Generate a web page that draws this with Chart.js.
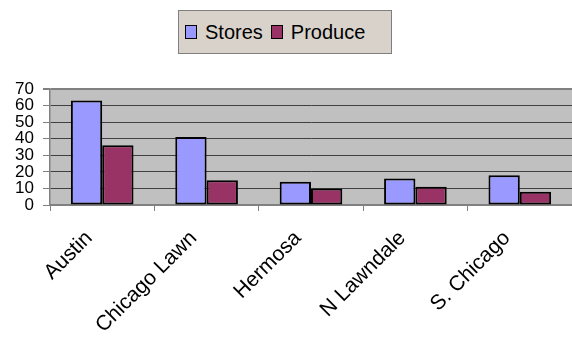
<!DOCTYPE html>
<html lang="en">
<head>
  <meta charset="UTF-8" />
  <title>Stores and Produce</title>
  <script src="https://cdn.jsdelivr.net/npm/chart.js"></script>
  <style>
    body {
      margin: 0;
      background: #fff;
      font-family: Arial, 'Liberation Sans', sans-serif;
    }

    .wrap {
      position: relative;
      width: 572px;
      height: 337px;
    }

    .legend {
      position: absolute;
      left: 178px;
      top: 10px;
      width: 212px;
      height: 42px;
      background: #d9d2cb;
      border: 1px solid #7f7f7f;
      display: flex;
      align-items: center;
      font-size: 20px;
      color: #000;
    }

    .legend span.sw {
      display: inline-block;
      width: 10px;
      height: 12px;
      border: 1.5px solid #000;
      margin: 0 8px 0 6px;
    }

    .legend span.txt {
      margin-right: 2px;
    }
  </style>
</head>
<body>
  <div class="wrap">
    <canvas id="chart" width="572" height="337"></canvas>
    <div class="legend" id="legend"></div>
  </div>

  <script>
    const categories = ['Austin', 'Chicago Lawn', 'Hermosa', 'N Lawndale', 'S. Chicago'];
    const stores = [63, 41, 14, 16, 18];
    const produce = [36, 15, 10, 11, 8];
    const yTicks = [0, 10, 20, 30, 40, 50, 60, 70];

    const seriesNames = ['Stores', 'Produce'];
    const seriesColors = ['#9999ff', '#993366'];

    const legendEl = document.getElementById('legend');
    seriesNames.forEach((name, i) => {
      legendEl.innerHTML += '<span class="sw" style="background:' + seriesColors[i] + '"></span><span class="txt">' + name + '</span>';
    });

    const plotBg = {
      id: 'plotBg',
      beforeDraw(chart) {
        const a = chart.chartArea;
        const c = chart.ctx;
        c.save();
        c.fillStyle = '#c0c0c0';
        c.fillRect(a.left, a.top, a.right - a.left, a.bottom - a.top);
        c.restore();
      }
    };

    const font = { family: "Arial, 'Liberation Sans', sans-serif" };

    const ctx = document.getElementById('chart').getContext('2d');
    new Chart(ctx, {
      type: 'bar',
      data: {
        labels: categories,
        datasets: [
          { label: seriesNames[0], data: stores, backgroundColor: seriesColors[0], borderColor: '#000', borderWidth: 2, borderSkipped: false },
          { label: seriesNames[1], data: produce, backgroundColor: seriesColors[1], borderColor: '#000', borderWidth: 2, borderSkipped: false }
        ]
      },
      options: {
        responsive: false,
        animation: false,
        layout: { padding: { top: 89, left: 0, right: 0, bottom: 0 } },
        datasets: { bar: { categoryPercentage: 0.6, barPercentage: 1.0 } },
        plugins: {
          legend: { display: false },
          tooltip: { enabled: false }
        },
        scales: {
          x: {
            afterFit: s => { s.height = 132; },
            grid: { offset: true, drawOnChartArea: false, drawTicks: true, tickLength: 6, tickColor: '#808080' },
            border: { color: '#808080', width: 2 },
            ticks: {
              color: '#000',
              font: { ...font, size: 21 },
              minRotation: 45,
              maxRotation: 45,
              autoSkip: false,
              labelOffset: -13,
              padding: 15
            }
          },
          y: {
            min: 0,
            max: 70,
            afterFit: s => { s.width = 50; },
            afterBuildTicks: s => { s.ticks = yTicks.map(v => ({ value: v })); },
            grid: {
              color: c => c.tick && c.tick.value === 70 ? '#808080' : '#404040',
              lineWidth: c => c.tick && c.tick.value === 70 ? 2 : 1,
              tickLength: 7,
              tickColor: '#808080'
            },
            border: { color: '#808080', width: 1.5 },
            ticks: {
              color: '#000',
              font: { ...font, size: 17 },
              autoSkip: false,
              padding: 9
            }
          }
        }
      },
      plugins: [plotBg]
    });
  </script>
</body>
</html>
